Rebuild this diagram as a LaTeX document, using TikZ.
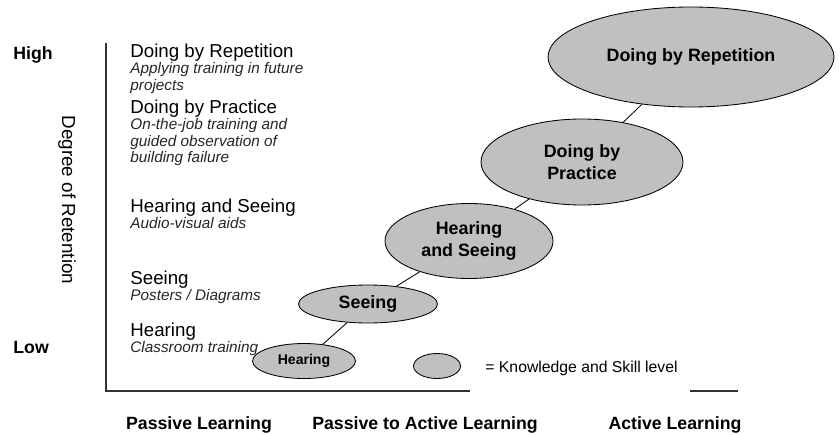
\documentclass[tikz,border=0pt]{standalone}
\usepackage{fontspec}
\setmainfont{Liberation Sans}
\usetikzlibrary{shapes.geometric, positioning}
\definecolor{cfill}{HTML}{C0C0C0}
\definecolor{cline}{HTML}{333333}
\tikzset{
  every picture/.style={line width=0.6pt},
  level/.style={ellipse, draw=black, fill=cfill, inner sep=0pt, align=center,
    font=\fontsize{12.7}{15.3}\selectfont\bfseries},
  size/.style 2 args={minimum width=#1*0.025cm, minimum height=#2*0.025cm},
  head/.style={anchor=base west, inner sep=0pt, font=\fontsize{13.3}{16}\selectfont},
  desc/.style={anchor=base west, inner sep=0pt, text=black!85,
    font=\fontsize{10.9}{11.7}\selectfont\itshape},
  axislabel/.style={anchor=base, inner sep=0pt, font=\fontsize{12.6}{15}\selectfont\bfseries},
  axisline/.style={draw=cline, line width=0.8pt},
}

\begin{document}
\begin{tikzpicture}[x=0.025cm, y=-0.025cm]
  \useasboundingbox (0,0) rectangle (840,434);
  % axes
  \coordinate (top) at (106,43);
  \coordinate (origin) at (106,391);
  \coordinate (xend) at (470,391);
  \coordinate (tailA) at (690,391);
  \coordinate (tailB) at (738,391);
  \draw[axisline] (top) -- (origin) -- (xend);
  \draw[axisline] (tailA) -- (tailB);
  \node[axislabel, anchor=base west] (high) at (13,59) {High};
  \node[axislabel, anchor=base west] (low) at (13,353) {Low};
  \node[rotate=-90, inner sep=0pt, font=\fontsize{13.4}{16}\selectfont] (ret) at (67,200) {Degree of Retention};
  % levels on the left
  \foreach \n/\h/\d/\y in {rep/Doing by Repetition/{Applying training in future, projects}/57,
      prac/Doing by Practice/{On-the-job training and, guided observation of, building failure}/113,
      hs/Hearing and Seeing/{Audio-visual aids}/212,
      see/Seeing/{Posters / Diagrams}/284,
      hear/Hearing/{Classroom training}/336} {
    \node[head] (t\n) at (130,\y) {\h};
    \foreach \l [count=\k] in \d
      \node[desc] (d\n\k) at (130,\y+16.5*\k) {\l};
  }
  % knowledge and skill levels
  \node[level, size={103}{35}, font=\fontsize{10}{12}\selectfont\bfseries] (hear) at (304,361) {Hearing};
  \node[level, size={139}{38}] (see) at (368,304) {Seeing};
  \node[level, size={168}{75}] (hs) at (469,241) {Hearing\\and Seeing};
  \node[level, size={202}{86}] (prac) at (582,162) {Doing by\\Practice};
  \node[level, size={286}{100}] (rep) at (691,57) {Doing by Repetition};
  \draw (hear) -- (see);
  \draw (see) -- (hs);
  \draw (hs) -- (prac);
  \draw (prac) -- (rep);
  % legend
  \node[level, size={47}{25}] (key) at (437,366) {};
  \node[anchor=base west, inner sep=0pt, font=\fontsize{11.2}{13}\selectfont] (keytext) at (485,372) {= Knowledge and Skill level};
  % bottom labels
  \node[axislabel] (passive) at (199,429) {Passive Learning};
  \node[axislabel] (mixed) at (425,429) {Passive to Active Learning};
  \node[axislabel] (active) at (675,429) {Active Learning};
\end{tikzpicture}
\end{document}
